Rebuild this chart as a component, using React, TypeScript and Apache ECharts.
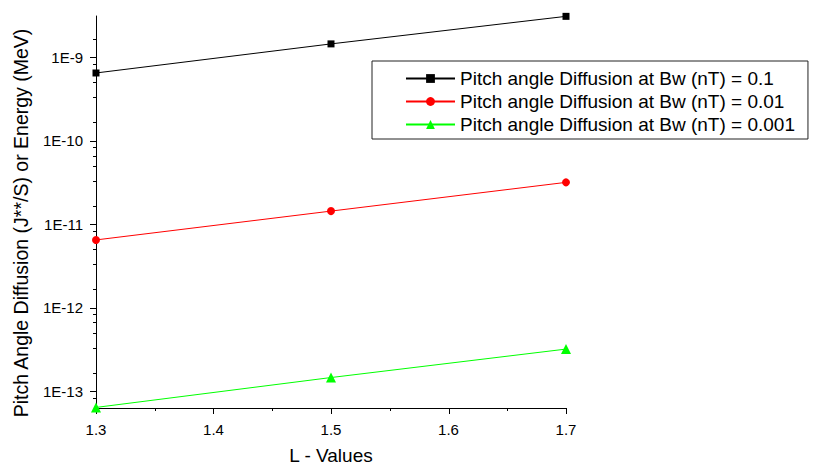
import React, { useEffect, useRef } from "react";
import * as echarts from "echarts";

const xValues = [1.3, 1.5, 1.7];
const seriesNames = [
  "Pitch angle Diffusion at Bw (nT) = 0.1",
  "Pitch angle Diffusion at Bw (nT) = 0.01",
  "Pitch angle Diffusion at Bw (nT) = 0.001",
];
const bw01 = [6.5e-10, 1.45e-9, 3.1e-9];
const bw001 = [6.5e-12, 1.44e-11, 3.18e-11];
const bw0001 = [6.4e-14, 1.46e-13, 3.2e-13];

const yTickValues = [1e-13, 1e-12, 1e-11, 1e-10, 1e-9];
const yTickLabels = ["1E-13", "1E-12", "1E-11", "1E-10", "1E-9"];
const yMinorTickValues = [
  8.333e-14,
  1.667e-13, 3.333e-13, 5e-13, 6.667e-13, 8.333e-13,
  1.667e-12, 3.333e-12, 5e-12, 6.667e-12, 8.333e-12,
  1.667e-11, 3.333e-11, 5e-11, 6.667e-11, 8.333e-11,
  1.667e-10, 3.333e-10, 5e-10, 6.667e-10, 8.333e-10,
  1.667e-9,
];
const xTickValues = [1.3, 1.4, 1.5, 1.6, 1.7];
const xTickLabels = ["1.3", "1.4", "1.5", "1.6", "1.7"];
const xMinorTickValues = [1.35, 1.45, 1.55, 1.65];

const FONT = "'Liberation Sans', Arial, sans-serif";
const TICK_COLOR = "#000";
const TICK_W = 1;

function yTickSeries(name: string, values: number[], len: number) {
  return {
    type: "custom",
    name,
    coordinateSystem: "cartesian2d",
    silent: true,
    clip: false,
    data: values.map((v) => [xTickValues[0], v]),
    renderItem: (params: any, api: any) => {
      const cs = params.coordSys;
      const p = api.coord([api.value(0), api.value(1)]);
      const y = Math.round(p[1]) + 0.5;
      const x0 = cs.x;
      return {
        type: "line",
        shape: { x1: x0 - len, y1: y, x2: x0, y2: y },
        style: { stroke: TICK_COLOR, lineWidth: TICK_W },
      };
    },
  };
}

function xTickSeries(name: string, values: number[], len: number) {
  return {
    type: "custom",
    name,
    coordinateSystem: "cartesian2d",
    silent: true,
    clip: false,
    data: values.map((v) => [v, yTickValues[0]]),
    renderItem: (params: any, api: any) => {
      const cs = params.coordSys;
      const p = api.coord([api.value(0), api.value(1)]);
      const x = Math.round(p[0]) + 0.5;
      const y0 = cs.y + cs.height;
      return {
        type: "line",
        shape: { x1: x, y1: y0, x2: x, y2: y0 + len },
        style: { stroke: TICK_COLOR, lineWidth: TICK_W },
      };
    },
  };
}

export default function App() {
  const ref = useRef<HTMLDivElement>(null);
  useEffect(() => {
    if (!ref.current) return;
    const chart = echarts.init(ref.current, null, { renderer: "svg" });
    const yLabel = (v: number) => {
      let best = 0;
      let bd = Infinity;
      yTickValues.forEach((t, i) => {
        const d = Math.abs(Math.log10(v) - Math.log10(t));
        if (d < bd) { bd = d; best = i; }
      });
      return yTickLabels[best];
    };
    const xLabel = (v: number) => {
      let best = 0;
      let bd = Infinity;
      xTickValues.forEach((t, i) => {
        const d = Math.abs(v - t);
        if (d < bd) { bd = d; best = i; }
      });
      return xTickLabels[best];
    };
    const mk = (vals: number[]) => xValues.map((x, i) => [x, vals[i]]);
    const yMin = 6.3e-14;
    const yMax = 3.13e-9;

    chart.setOption({
      animation: false,
      backgroundColor: "#fff",
      textStyle: { fontFamily: FONT },
      grid: { left: 96, right: 251, top: 16, bottom: 57, containLabel: false, outerBoundsMode: "none" },
      xAxis: {
        type: "value",
        min: 1.3,
        max: 1.7,
        interval: 0.1,
        name: "L - Values",
        nameLocation: "middle",
        nameGap: 38,
        nameTextStyle: { fontSize: 19, color: "#000", fontFamily: FONT },
        axisLine: { show: true, lineStyle: { color: "#000", width: 1 } },
        axisTick: { show: false },
        splitLine: { show: false },
        axisLabel: { fontSize: 15, color: "#000", margin: 14, formatter: xLabel, fontFamily: FONT },
      },
      yAxis: {
        type: "log",
        logBase: 10,
        min: yMin,
        max: yMax,
        position: "left",
        axisLine: { show: true, lineStyle: { color: "#000", width: 1 } },
        axisTick: { show: false },
        axisLabel: { fontSize: 15, color: "#000", margin: 13, customValues: yTickValues, formatter: yLabel, fontFamily: FONT },
        splitLine: { show: false },
      },
      legend: {
        orient: "vertical",
        left: 372,
        top: 61,
        padding: [8, 13, 5, 33],
        itemWidth: 49,
        itemHeight: 11,
        itemGap: 4,
        backgroundColor: "#fff",
        borderColor: "#222",
        borderWidth: 1,
        borderRadius: 0,
        textStyle: { fontSize: 19, lineHeight: 19, color: "#000", fontFamily: FONT },
        data: seriesNames,
      },
      graphic: [
        {
          type: "text",
          x: 21,
          y: 223,
          rotation: Math.PI / 2,
          style: {
            text: "Pitch Angle Diffusion (J**/S) or Energy (MeV)",
            font: `19.5px ${FONT}`,
            fill: "#000",
            textAlign: "center",
            textVerticalAlign: "middle",
          },
        },
      ],
      series: [
        {
          name: seriesNames[0],
          type: "line",
          data: mk(bw01),
          symbol: "rect",
          symbolSize: 7,
          lineStyle: { color: "#000", width: 1 },
          itemStyle: { color: "#000" },
          clip: true,
        },
        {
          name: seriesNames[1],
          type: "line",
          data: mk(bw001),
          symbol: "circle",
          symbolSize: 8,
          lineStyle: { color: "#ff0000", width: 1 },
          itemStyle: { color: "#ff0000" },
          clip: true,
        },
        {
          name: seriesNames[2],
          type: "line",
          data: mk(bw0001),
          symbol: "triangle",
          symbolSize: 10,
          lineStyle: { color: "#00ff00", width: 1 },
          itemStyle: { color: "#00ff00" },
          clip: true,
        },
        yTickSeries("yMajorTicks", yTickValues, 6),
        yTickSeries("yMinorTicks", yMinorTickValues, 3),
        xTickSeries("xMajorTicks", xTickValues, 6),
        xTickSeries("xMinorTicks", xMinorTickValues, 3),
      ],
    });
    return () => chart.dispose();
  }, []);
  return (
    <div
      ref={ref}
      style={{ position: "fixed", left: 0, top: 0, width: 817, height: 465 }}
    />
  );
}
